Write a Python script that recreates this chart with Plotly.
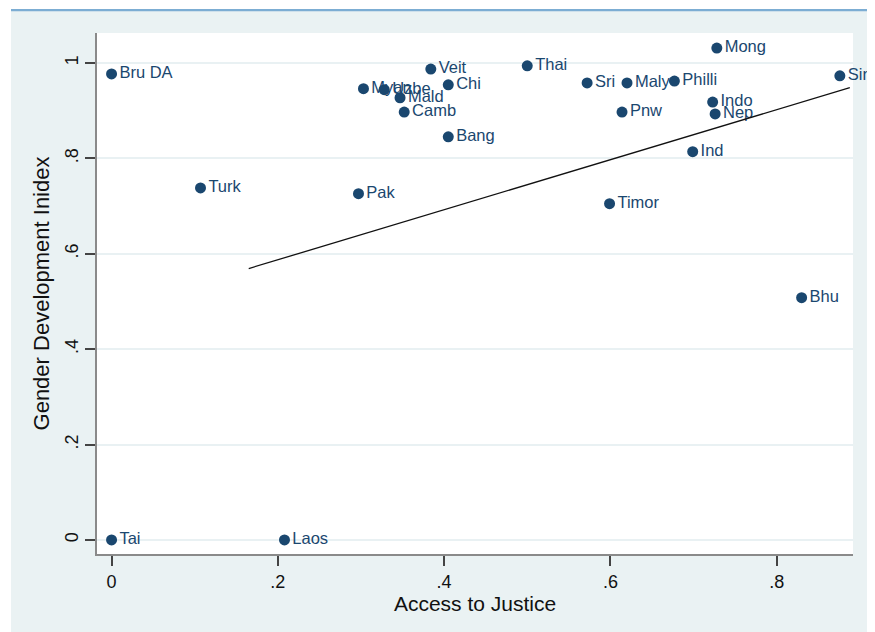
import plotly.graph_objects as go

# ---- data ----
countries = ["Bru DA", "Tai", "Laos", "Turk", "Pak", "Myan", "Uzbe", "Mald", "Camb",
             "Veit", "Chi", "Bang", "Thai", "Sri", "Maly", "Philli", "Pnw", "Timor",
             "Mong", "Indo", "Nep", "Ind", "Sing", "Bhu"]
access = [0.000, 0.000, 0.208, 0.107, 0.297, 0.303, 0.328, 0.347, 0.352,
          0.384, 0.405, 0.405, 0.500, 0.572, 0.620, 0.677, 0.614, 0.599,
          0.728, 0.723, 0.726, 0.699, 0.876, 0.830]
gdi = [0.977, 0.000, 0.000, 0.738, 0.726, 0.946, 0.944, 0.927, 0.897,
       0.987, 0.954, 0.845, 0.994, 0.958, 0.958, 0.962, 0.897, 0.705,
       1.031, 0.918, 0.893, 0.814, 0.973, 0.508]
fit_x = [0.165, 0.888]
fit_y = [0.569, 0.948]

x_tickvals = [0, 0.2, 0.4, 0.6, 0.8]
x_ticktext = ["0", ".2", ".4", ".6", ".8"]
y_tickvals = [0, 0.2, 0.4, 0.6, 0.8, 1.0]
y_ticktext = ["0", ".2", ".4", ".6", ".8", "1"]

# ---- layout geometry ----
W, H = 867, 624
ML, MR, MT, MB = 89, 22, 25, 78
PW, PH = W - ML - MR, H - MT - MB

def px(fx):
    return (fx - ML) / PW

def py(fy):
    return (H - MB - fy) / PH

navy = "#1a476f"
bg = "#eaf2f3"
font = "Liberation Sans, Arial, sans-serif"

fig = go.Figure()
fig.add_trace(go.Scatter(
    x=access, y=gdi, mode="markers+text", text=countries,
    textposition="middle right",
    textfont=dict(family=font, size=16.5, color=navy),
    marker=dict(size=11, color=navy),
    cliponaxis=False, showlegend=False, hoverinfo="x+y+text"))
fig.add_trace(go.Scatter(
    x=fit_x, y=fit_y, mode="lines",
    line=dict(color="#111111", width=1.3),
    showlegend=False, hoverinfo="skip"))

shapes = [
    # white page strips outside the graph region
    dict(type="rect", xref="paper", yref="paper", x0=px(0), x1=px(3), y0=py(H), y1=py(0),
         fillcolor="white", line_width=0, layer="below"),
    dict(type="rect", xref="paper", yref="paper", x0=px(0), x1=px(W), y0=py(1), y1=py(0),
         fillcolor="white", line_width=0, layer="below"),
    # blue top rule
    dict(type="rect", xref="paper", yref="paper", x0=px(3), x1=px(W), y0=py(3.2), y1=py(1),
         fillcolor="#7cadd3", line_width=0, layer="below"),
]

fig.update_layout(
    width=W, height=H,
    margin=dict(l=ML, r=MR, t=MT, b=MB, pad=0),
    paper_bgcolor=bg, plot_bgcolor="white",
    font=dict(family=font, color="#111111"),
    shapes=shapes,
    xaxis=dict(
        range=[-0.0175, 0.8918], tickvals=x_tickvals, ticktext=x_ticktext,
        showgrid=False, zeroline=False,
        showline=True, linecolor="#8a8a8a", linewidth=2,
        ticks="outside", ticklen=10, tickwidth=1.5, tickcolor="#444444",
        tickfont=dict(family=font, size=18, color="#111111"),
        title=dict(text="Access to Justice", font=dict(family=font, size=21, color="#111111"),
                   standoff=3),
        automargin=False),
    yaxis=dict(
        range=[-0.0294, 1.0627], tickvals=y_tickvals, ticktext=y_ticktext,
        tickangle=-90,
        showgrid=True, gridcolor="#e9f1f3", gridwidth=2, zeroline=False,
        showline=True, linecolor="#8a8a8a", linewidth=2,
        ticks="outside", ticklen=10, tickwidth=1.5, tickcolor="#444444",
        tickfont=dict(family=font, size=18, color="#111111"),
        title=dict(text="Gender Development Inidex", font=dict(family=font, size=22, color="#111111"),
                   standoff=6),
        automargin=False),
)

fig.write_html("out.html")
